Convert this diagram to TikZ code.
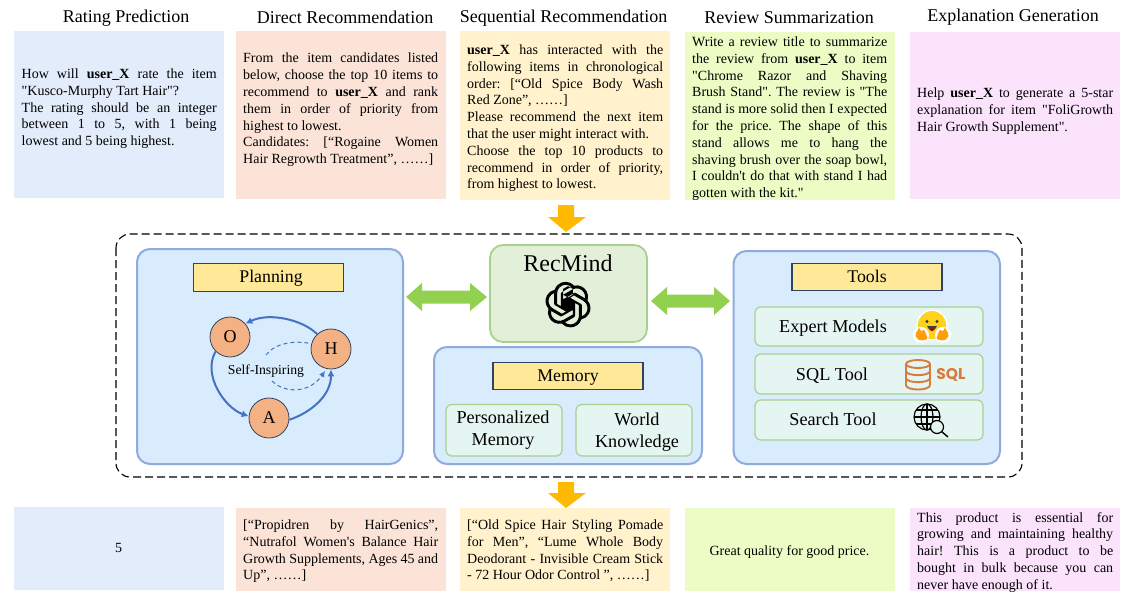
\documentclass[tikz,border=0pt]{standalone}
\usepackage{fontspec}
\setmainfont{Liberation Serif}[Ligatures=TeXOff]
\newfontfamily\sqlfont{Poppins}
\usetikzlibrary{arrows.meta,svg.path}
\tolerance=10000 \hbadness=10000 \hfuzz=8pt \hyphenpenalty=10000 \frenchspacing
\definecolor{cBlue}{HTML}{E2ECFB}
\definecolor{cPeach}{HTML}{FBE4D7}
\definecolor{cYel}{HTML}{FFF2CC}
\definecolor{cLime}{HTML}{ECFCC4}
\definecolor{cPink}{HTML}{FBE3FC}
\definecolor{pFill}{HTML}{D8ECFE}
\definecolor{pLine}{HTML}{8FAADC}
\definecolor{tFill}{HTML}{FFE999}
\definecolor{tLine}{HTML}{2F4464}
\definecolor{gFill}{HTML}{E2F0D9}
\definecolor{gLine}{HTML}{A9D18E}
\definecolor{sFill}{HTML}{E5F5F1}
\definecolor{arG}{HTML}{92D050}
\definecolor{arY}{HTML}{FFB900}
\definecolor{cOr}{HTML}{F4B183}
\definecolor{cyc}{HTML}{4472C4}
\definecolor{sqlc}{HTML}{D97B3F}
\definecolor{hfY}{HTML}{FFD21E}
\definecolor{hfO}{HTML}{FF9D0B}
\tikzset{
 x=1pt,y=-1pt,
 txt/.style={font=\frenchspacing\fontsize{14}{16.8}\selectfont,align=justify,inner sep=0pt,anchor=north west},
 one/.style={font=\fontsize{14}{16.8}\selectfont,inner sep=0pt},
 hdr/.style={font=\fontsize{18}{20}\selectfont,anchor=center,inner sep=0pt},
 panel/.style={draw=pLine,fill=pFill,line width=2pt,rounded corners=13pt},
 tag/.style={draw=tLine,fill=tFill,line width=1.2pt,minimum width=150pt,minimum height=27.5pt,inner sep=0pt,text height=13pt,text depth=3pt,font=\fontsize{17.8}{20}\selectfont},
 sub/.style={draw=gLine,fill=sFill,line width=1.2pt,rounded corners=6pt},
 lab/.style={font=\fontsize{18.2}{22}\selectfont,align=center,inner sep=0pt},
 state/.style={circle,draw=tLine,fill=cOr,line width=.8pt,minimum size=40pt,inner sep=0pt,font=\fontsize{18}{20}\selectfont},
 cycarrow/.style={draw=cyc,line width=2pt,-{Latex[length=7pt,width=7pt]}},
 cycdash/.style={draw=cyc,line width=1pt,dash pattern=on 4pt off 3pt},
}
\begin{document}
\begin{tikzpicture}
\useasboundingbox (0,0) rectangle (1131,599);
% headers
\node[hdr] (h1) at (126,18) {Rating Prediction};
\node[hdr] (h2) at (345,17) {Direct Recommendation};
\node[hdr] (h3) at (563.5,18) {Sequential Recommendation};
\node[hdr] (h4) at (789,18) {Review Summarization};
\node[hdr] (h5) at (1013,17) {Explanation Generation};
% top cards
\fill[cBlue] (13.5,31) rectangle (223.5,198);
\fill[cPeach] (236,31) rectangle (445.5,199);
\fill[cYel] (460,31) rectangle (670,200);
\fill[cLime] (685,32) rectangle (895,199.5);
\fill[cPink] (909.5,32) rectangle (1120,199);
\node[txt,text width=195pt] (t1) at (21.5,68.5) {How will \textbf{user\_X} rate the item\linebreak "Kusco-Murphy Tart Hair"?\\The rating should be an integer\linebreak between 1 to 5, with 1 being\linebreak lowest and 5 being highest.};
\node[txt,text width=195pt] (t2) at (243,53) {From the item candidates listed\linebreak below, choose the top 10 items to\linebreak recommend to \textbf{user\_X} and rank\linebreak them in order of priority from\linebreak highest to lowest.\\Candidates: [“Rogaine Women\linebreak Hair Regrowth Treatment”, ……]};
\node[txt,text width=196pt] (t3) at (467,44.5) {\textbf{user\_X} has interacted with the\linebreak following items in chronological\linebreak order: [“Old Spice Body Wash\linebreak Red Zone”, ……]\\Please recommend the next item\linebreak that the user might interact with.\\Choose the top 10 products to\linebreak recommend in order of priority,\linebreak from highest to lowest.};
\node[txt,text width=195pt] (t4) at (692,36.5) {Write a review title to summarize\linebreak the review from \textbf{user\_X} to item\linebreak "Chrome Razor and Shaving\linebreak Brush Stand". The review is "The\linebreak stand is more solid then I expected\linebreak for the price. The shape of this\linebreak stand allows me to hang the\linebreak shaving brush over the soap bowl,\linebreak I couldn't do that with stand I had\linebreak gotten with the kit."};
\node[txt,text width=196pt] (t5) at (917,88) {Help \textbf{user\_X} to generate a 5-star\linebreak explanation for item "FoliGrowth\linebreak Hair Growth Supplement".};
% yellow arrows
\fill[arY] (558,205) -- (574,205) -- (574,217) -- (586,217) -- (566,232) -- (548,217) -- (558,217) -- cycle;
\fill[arY] (558,482) -- (574,482) -- (574,493) -- (586,493) -- (566,508) -- (548,493) -- (558,493) -- cycle;
% dashed frame
\draw[line width=1.1pt,dash pattern=on 8pt off 4pt,rounded corners=14pt] (116,234) rectangle (1022,477);
% panels
\draw[panel] (137,249) rectangle (403,464);
\draw[panel] (434,347) rectangle (702,464);
\draw[panel] (733.5,251) rectangle (1000,464);
% recmind
\draw[draw=gLine,fill=gFill,line width=1.8pt,rounded corners=13pt] (490,245) rectangle (647,342);
\node[inner sep=0pt,font=\fontsize{24}{26}\selectfont,text height=16pt,text depth=0pt] (rm) at (568,263) {RecMind};
% logo
\begin{scope}[shift={(545.2,281.8)},xscale=1.9,yscale=-1.9]
\fill svg {M 22.2819 9.8211 a 5.9847 5.9847 0 0 0 -0.5157 -4.9108 a 6.0462 6.0462 0 0 0 -6.5098 -2.9 A 6.0651 6.0651 0 0 0 4.9807 4.1818 a 5.9847 5.9847 0 0 0 -3.9977 2.9 a 6.0462 6.0462 0 0 0 0.7427 7.0966 a 5.98 5.98 0 0 0 0.511 4.9107 a 6.051 6.051 0 0 0 6.5146 2.9001 A 5.9847 5.9847 0 0 0 13.2599 24 a 6.0557 6.0557 0 0 0 5.7718 -4.2058 a 5.9894 5.9894 0 0 0 3.9977 -2.9001 a 6.0557 6.0557 0 0 0 -0.7475 -7.0729 z m -9.022 12.6081 a 4.4755 4.4755 0 0 1 -2.8764 -1.0408 l 0.1419 -0.0804 l 4.7783 -2.7582 a 0.7948 0.7948 0 0 0 0.3927 -0.6813 v -6.7369 l 2.02 1.1686 l 0.038 0.052 v 5.5826 a 4.504 4.504 0 0 1 -4.4945 4.4944 z m -9.6607 -4.1254 a 4.4708 4.4708 0 0 1 -0.5346 -3.0137 l 0.142 0.0852 l 4.783 2.7582 a 0.7712 0.7712 0 0 0 0.7806 0 l 5.8428 -3.3685 v 2.3324 l -0.0332 0.0615 L 9.74 19.9502 a 4.4992 4.4992 0 0 1 -6.1408 -1.6464 z M 2.3408 7.8956 a 4.485 4.485 0 0 1 2.3655 -1.9728 V 11.6 a 0.7664 0.7664 0 0 0 0.3879 0.6765 l 5.8144 3.3543 l -2.0201 1.1685 l -0.071 0 l -4.8303 -2.7865 A 4.504 4.504 0 0 1 2.3408 7.872 z m 16.5963 3.8558 L 13.1038 8.364 L 15.1192 7.2 l 0.071 0 l 4.8303 2.7913 a 4.4944 4.4944 0 0 1 -0.6765 8.1042 v -5.6772 a 0.79 0.79 0 0 0 -0.407 -0.667 z m 2.0107 -3.0231 l -0.142 -0.0852 l -4.7735 -2.7818 a 0.7759 0.7759 0 0 0 -0.7854 0 L 9.409 9.2297 V 6.8974 l 0.0284 -0.0615 l 4.8303 -2.7866 a 4.4992 4.4992 0 0 1 6.6802 4.66 z M 8.3065 12.863 l -2.02 -1.1638 l -0.038 -0.0567 V 6.0742 a 4.4992 4.4992 0 0 1 7.3757 -3.4537 l -0.142 0.0805 L 8.704 5.459 a 0.7948 0.7948 0 0 0 -0.3927 0.6813 z m 1.0976 -2.3654 l 2.602 -1.4998 l 2.6069 1.4998 v 2.9994 l -2.5974 1.4997 l -2.6067 -1.4997 z};
\end{scope}
% tags
\node[tag] (pl) at (268.5,277.5) {\hspace*{5pt}Planning};
\node[tag] (me) at (568,376) {Memory};
\node[tag] (to) at (867,277) {Tools};
% memory subs
\draw[sub] (446,404.5) rectangle (562,456);
\draw[sub] (576,404.5) rectangle (692,456);
\node[lab] (pm) at (503,430) {Personalized\\Memory};
\node[lab] (wk) at (637,432.5) {World\\Knowledge};
% tools subs
\draw[sub] (755,307) rectangle (983,346);
\draw[sub] (755,354) rectangle (983,394);
\draw[sub] (755,400) rectangle (983,440);
\node[lab] (em) at (833,328) {Expert Models};
\node[lab] (sq) at (832,376) {SQL Tool};
\node[lab] (se) at (833,419) {Search Tool};
% hugging face
\begin{scope}[shift={(932,325)}]
\fill[white] (0,0) circle (15.5);
\fill[hfY] (0,0) circle (14);
\foreach \s in {-1,1}{
 \begin{scope}[xscale=\s]
 \fill[white] (11,10) circle (8);
 \fill[hfO,rounded corners=2pt] (4,14) -- (8,4) -- (11,7) -- (13,2) -- (15,7) -- (17,9) -- (16,13) -- (11,16) -- cycle;
 \end{scope}
 \fill[black!80] (\s*5,-3.5) circle (1.7);
}
\fill[black!75] (-5,1) .. controls (-3,7) and (3,7) .. (5,1) -- cycle;
\fill[red!75!black] (-2.5,3.5) .. controls (-2,7) and (2,7) .. (2.5,3.5) -- cycle;
\end{scope}
% sql icon
\begin{scope}[shift={(918,374.5)},draw=sqlc,line width=1.9pt]
\draw (0,-10.5) ellipse (12 and 4);
\draw (-12,-10.5) -- (-12,10.5) .. controls (-12,16.5) and (12,16.5) .. (12,10.5) -- (12,-10.5);
\draw (-12,-3.5) .. controls (-12,2) and (12,2) .. (12,-3.5);
\draw (-12,3.5) .. controls (-12,9) and (12,9) .. (12,3.5);
\end{scope}
\node[inner sep=0pt,text=sqlc,font=\sqlfont\bfseries\fontsize{15.5}{15}\selectfont] (sqlt) at (951,375) {SQL};
% globe
\begin{scope}[shift={(927,417)},line width=1.2pt]
\draw (0,0) circle (13);
\draw (0,0) ellipse (6 and 13);
\draw (0,-13) -- (0,13) (-13,0) -- (13,0) (-11,-7) -- (11,-7) (-11,7) -- (11,7);
\fill[sFill,draw=black] (10,10) circle (6.5);
\draw[line width=1.4pt] (14.5,14.5) -- (21,20);
\end{scope}
% circles
\node[state] (O) at (230,337) {O};
\node[state] (H) at (331,349) {H};
\node[state] (A) at (269,418) {A};
\draw[cycarrow] (H.133) .. controls (303,320) and (270,312) .. (O.41);
\draw[cycarrow] (O.225) .. controls (202,375) and (225,408) .. (A.175);
\draw[cycarrow] (A.-5) .. controls (312,412) and (331,395) .. (H.-90);
\coordinate (d1) at (266,355);
\coordinate (d2) at (272,381);
\coordinate (d3) at (325,371);
\draw[cycdash] (d1) .. controls (275,343) and (295,340) .. (H.165);
\draw[cycdash,-{Latex[length=6pt,width=6pt]}] (d2) .. controls (285,394) and (310,393) .. (d3);
\node[inner sep=0pt,font=\fontsize{13.7}{15}\selectfont] (si) at (266,371) {Self-Inspiring};
% green arrows
\fill[arG] (406,297) -- (422,283) -- (422,290.5) -- (470,290.5) -- (470,283) -- (487,297) -- (470,311) -- (470,303.5) -- (422,303.5) -- (422,311) -- cycle;
\fill[arG] (651,301) -- (667,287) -- (667,294.5) -- (714,294.5) -- (714,287) -- (730,301) -- (714,315) -- (714,307.5) -- (667,307.5) -- (667,315) -- cycle;
% bottom cards
\fill[cBlue] (13.5,507) rectangle (224,590);
\fill[cPeach] (236,508) rectangle (445.5,590.5);
\fill[cYel] (460,508) rectangle (670,590.5);
\fill[cLime] (685,507.5) rectangle (895,591);
\fill[cPink] (910,508) rectangle (1120,591);
\node[one] (b1) at (118.5,548) {5};
\node[txt,text width=195pt] (b2) at (243,519.5) {[“Propidren by HairGenics”,\linebreak “Nutrafol Women's Balance Hair\linebreak Growth Supplements, Ages 45 and\linebreak Up”, ……]};
\node[txt,text width=196pt] (b3) at (467,519.5) {[“Old Spice Hair Styling Pomade\linebreak for Men”, “Lume Whole Body\linebreak Deodorant - Invisible Cream Stick\linebreak - 72 Hour Odor Control ”, ……]};
\node[one] (b4) at (789.5,552) {Great quality for good price.};
\node[txt,text width=196pt] (b5) at (917,512) {This product is essential for\linebreak growing and maintaining healthy\linebreak hair! This is a product to be\linebreak bought in bulk because you can\linebreak never have enough of it.};
\end{tikzpicture}
\end{document}
